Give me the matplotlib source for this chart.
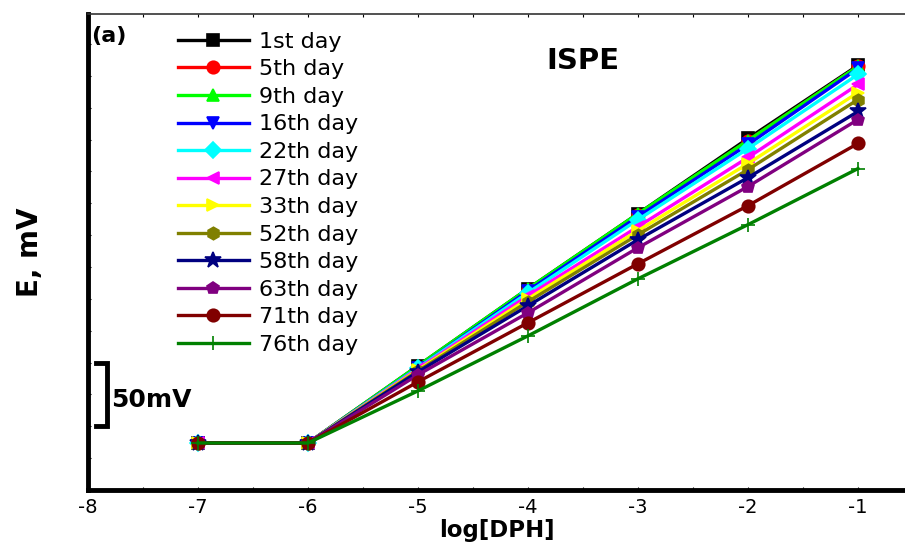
import matplotlib.pyplot as plt
from matplotlib.ticker import MultipleLocator, NullFormatter

plt.rcParams['font.family'] = ['DejaVu Sans']
plt.rcParams['axes.unicode_minus'] = False

log_dph = [-7, -6, -5, -4, -3, -2, -1]
days = ["1st day", "5th day", "9th day", "16th day", "22th day", "27th day",
        "33th day", "52th day", "58th day", "63th day", "71th day", "76th day"]

# E in mV (relative)
e_1st = [36.9, 36.9, 97.5, 158.0, 216.9, 275.9, 333.3]
e_5th = [36.9, 36.9, 96.7, 157.2, 216.2, 274.3, 332.5]
e_9th = [36.9, 36.9, 97.5, 158.0, 216.9, 274.3, 332.5]
e_16th = [36.9, 36.9, 95.9, 156.4, 214.6, 271.2, 330.9]
e_22th = [36.9, 36.9, 95.9, 154.8, 212.2, 268.0, 326.2]
e_27th = [36.9, 36.9, 95.1, 152.5, 206.7, 261.0, 318.3]
e_33th = [36.9, 36.9, 94.3, 150.1, 203.6, 256.2, 312.0]
e_52th = [36.9, 36.9, 93.5, 147.8, 200.4, 251.5, 306.5]
e_58th = [36.9, 36.9, 92.7, 144.6, 196.5, 245.2, 297.1]
e_63th = [36.9, 36.9, 90.4, 139.1, 190.2, 238.2, 290.8]
e_71th = [36.9, 36.9, 84.9, 131.3, 177.6, 223.2, 272.0]
e_76th = [36.9, 36.9, 77.8, 121.0, 165.8, 208.3, 252.3]

series = [e_1st, e_5th, e_9th, e_16th, e_22th, e_27th,
          e_33th, e_52th, e_58th, e_63th, e_71th, e_76th]
colors = ["#000000", "#ff0000", "#00ff00", "#0000ff", "#00ffff", "#ff00ff",
          "#ffff00", "#808000", "#000080", "#800080", "#800000", "#008000"]
markers = ["s", "o", "^", "v", "D", "<", ">", "h", "*", "p", "o", "+"]

fig = plt.figure(figsize=(9.05, 5.5), dpi=100)
ax = fig.add_axes([0.0972, 0.1091, 0.9028, 0.8654])

for d, y, c, m in zip(days, series, colors, markers):
    ms = 9
    if m == "*":
        ms = 12
    elif m == "+":
        ms = 10
    elif m == "D":
        ms = 8
    ax.plot(log_dph, y, color=c, marker=m, lw=2.4, ms=ms, label=d,
            markeredgecolor=c, markeredgewidth=1.2)

ax.set_xlim(-8, -0.573)
ax.set_ylim(0, 373.6)

ax.xaxis.set_major_locator(MultipleLocator(1))
ax.xaxis.set_minor_locator(MultipleLocator(0.5))
ax.yaxis.set_major_locator(MultipleLocator(50))
ax.yaxis.set_minor_locator(MultipleLocator(25))
ax.yaxis.set_major_formatter(NullFormatter())

ax.tick_params(axis="x", which="major", direction="out", length=7, width=3.5,
               labelsize=14, pad=6)
ax.tick_params(axis="x", which="minor", direction="out", length=4, width=3)
ax.tick_params(axis="y", which="major", direction="out", length=12, width=3)
ax.tick_params(axis="y", which="minor", direction="out", length=5, width=3)
ax.tick_params(top=True, which="both", direction="in", length=2, width=0.8)

for s in ["left", "bottom"]:
    ax.spines[s].set_linewidth(3.5)
ax.spines["right"].set_visible(False)
ax.spines["top"].set_linewidth(1.2)
ax.spines["top"].set_color("#333333")

ax.set_xlabel("log[DPH]", fontsize=16.5, fontweight="bold", labelpad=1)
ax.set_ylabel("E, mV", fontsize=20, fontweight="bold", labelpad=28)

ax.text(0.004, 0.975, "(a)", transform=ax.transAxes, fontsize=16,
        fontweight="bold", va="top")
ax.text(0.606, 0.902, "ISPE", transform=ax.transAxes, fontsize=21,
        fontweight="bold", va="center", ha="center")

# 50 mV scale bar
ax.plot([-7.93, -7.83, -7.83, -7.93], [100, 100, 50, 50], color="black",
        lw=3.5, solid_joinstyle="miter", clip_on=False)
ax.text(-7.79, 70.5, "50mV", fontsize=18, fontweight="bold", va="center")

ax.legend(loc="upper left", bbox_to_anchor=(0.11, 0.963), frameon=False,
          fontsize=16, handlelength=3.2, labelspacing=0.34, borderaxespad=0,
          borderpad=0, handletextpad=0.45)

fig.savefig("out.png", dpi=100)
